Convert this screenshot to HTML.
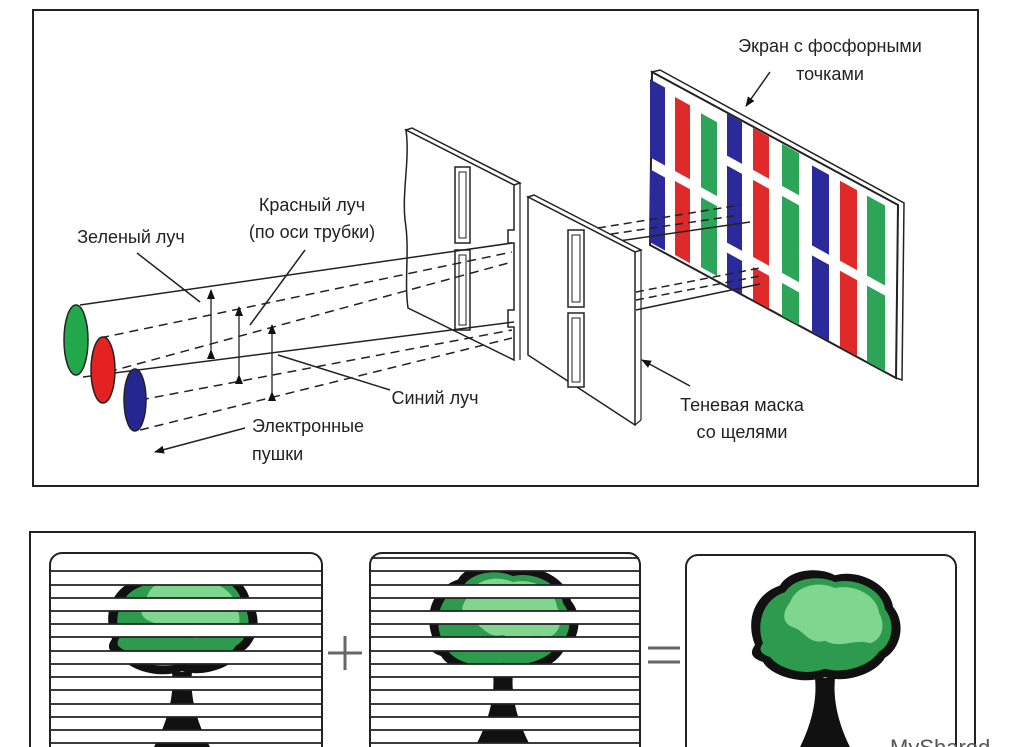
<!DOCTYPE html>
<html><head><meta charset="utf-8"><style>
html,body{margin:0;padding:0;background:#fff;}
svg{display:block;}
text{font-family:"Liberation Sans",sans-serif;font-size:18px;fill:#222;}
</style></head><body>
<svg width="1027" height="747" viewBox="0 0 1027 747" xmlns="http://www.w3.org/2000/svg">
<defs>
<marker id="ah" markerWidth="10" markerHeight="8" refX="9" refY="4" orient="auto" markerUnits="userSpaceOnUse"><path d="M0,0 L10,4 L0,8 z" fill="#111"/></marker>
</defs>

<!-- top frame -->
<rect x="33" y="10" width="945" height="476" fill="none" stroke="#222" stroke-width="2"/>

<!-- screen -->
<polygon points="652,72 660,70 904,203 902,380 896,378 898,205" fill="#fff" stroke="#222" stroke-width="1.5"/>
<polygon points="652,72 898,205 896,378 650,245" fill="#fff" stroke="#222" stroke-width="2"/>
<g transform="matrix(1,0.55,0,1,0,-360.25)">
 <rect x="650" y="82" width="15" height="78" fill="#2a2a9a"/><rect x="650" y="172" width="15" height="73" fill="#2a2a9a"/>
 <rect x="675" y="86" width="15" height="74" fill="#e02a2a"/><rect x="675" y="170" width="15" height="74" fill="#e02a2a"/>
 <rect x="701" y="88" width="16" height="74" fill="#2ca558"/><rect x="701" y="172" width="16" height="70" fill="#2ca558"/>
 <rect x="727" y="74" width="15" height="42" fill="#2a2a9a"/><rect x="727" y="126" width="15" height="77" fill="#2a2a9a"/><rect x="727" y="213" width="15" height="33" fill="#2a2a9a"/>
 <rect x="753" y="74" width="16" height="42" fill="#e02a2a"/><rect x="753" y="126" width="16" height="77" fill="#e02a2a"/><rect x="753" y="213" width="16" height="33" fill="#e02a2a"/>
 <rect x="782" y="74" width="17" height="42" fill="#2ca558"/><rect x="782" y="126" width="17" height="77" fill="#2ca558"/><rect x="782" y="213" width="17" height="33" fill="#2ca558"/>
 <rect x="812" y="79" width="17" height="80" fill="#2a2a9a"/><rect x="812" y="169" width="17" height="76" fill="#2a2a9a"/>
 <rect x="840" y="79" width="17" height="80" fill="#e02a2a"/><rect x="840" y="169" width="17" height="76" fill="#e02a2a"/>
 <rect x="867" y="79" width="18" height="80" fill="#2ca558"/><rect x="867" y="169" width="18" height="76" fill="#2ca558"/>
</g>

<!-- beams to screen -->
<g stroke="#222" stroke-width="1.5" fill="none">
 <line x1="598" y1="228" x2="740" y2="205" stroke-dasharray="8,5"/>
 <line x1="598" y1="236" x2="740" y2="215" stroke-dasharray="8,5"/>
 <line x1="598" y1="244" x2="750" y2="222"/>
 <line x1="636" y1="292" x2="760" y2="268" stroke-dasharray="8,5"/>
 <line x1="636" y1="300" x2="760" y2="276" stroke-dasharray="8,5"/>
 <line x1="636" y1="310" x2="760" y2="284"/>
</g>

<!-- shadow mask plate 1 -->
<polygon points="406,130 412,128 520,183 514,185" fill="#fff" stroke="#222" stroke-width="1.5"/>
<path d="M406,130 L514,185 L514,230 L508,230 L508,243 L514,243 L514,310 L508,310 L508,327 L514,327 L514,360 L408,308 C404,280 410,250 405,220 C402,190 410,160 406,130 z" fill="#fff" stroke="#222" stroke-width="1.5"/>
<line x1="520" y1="183" x2="520" y2="360" stroke="#222" stroke-width="1.2"/>
<rect x="455" y="167" width="15" height="76" fill="#fff" stroke="#222" stroke-width="1.5"/>
<rect x="459" y="172" width="7" height="66" fill="none" stroke="#222" stroke-width="1"/>
<rect x="455" y="250" width="15" height="80" fill="#fff" stroke="#222" stroke-width="1.5"/>
<rect x="459" y="255" width="7" height="70" fill="none" stroke="#222" stroke-width="1"/>

<!-- guns and beams -->
<g stroke="#222" stroke-width="1.5" fill="none">
 <line x1="80" y1="305" x2="512" y2="243"/>
 <line x1="83" y1="377" x2="514" y2="322"/>
 <line x1="100" y1="338" x2="512" y2="252" stroke-dasharray="9,6"/>
 <line x1="108" y1="372" x2="512" y2="262" stroke-dasharray="9,6"/>
 <line x1="140" y1="400" x2="512" y2="330" stroke-dasharray="9,6"/>
 <line x1="140" y1="430" x2="512" y2="338" stroke-dasharray="9,6"/>
</g>
<ellipse cx="76" cy="340" rx="12" ry="35" fill="#22a84a" stroke="#222" stroke-width="1.5"/>
<ellipse cx="103" cy="370" rx="12" ry="33" fill="#e52222" stroke="#222" stroke-width="1.5"/>
<ellipse cx="135" cy="400" rx="11" ry="31" fill="#262690" stroke="#222" stroke-width="1.5"/>

<!-- plate 2 -->
<polygon points="528,197 534,195 641,250 635,252" fill="#fff" stroke="#222" stroke-width="1.5"/>
<polygon points="528,197 635,252 635,425 528,355" fill="#fff" stroke="#222" stroke-width="1.5"/>
<line x1="641" y1="250" x2="641" y2="420" stroke="#222" stroke-width="1.2"/>
<line x1="635" y1="425" x2="641" y2="420" stroke="#222" stroke-width="1.2"/>
<rect x="568" y="230" width="16" height="77" fill="#fff" stroke="#222" stroke-width="1.5"/>
<rect x="572" y="235" width="8" height="67" fill="none" stroke="#222" stroke-width="1"/>
<rect x="568" y="313" width="16" height="74" fill="#fff" stroke="#222" stroke-width="1.5"/>
<rect x="572" y="318" width="8" height="64" fill="none" stroke="#222" stroke-width="1"/>

<!-- dimension arrows -->
<g stroke="#222" stroke-width="1.3" marker-start="url(#ah)" marker-end="url(#ah)">
 <line x1="211" y1="350" x2="211" y2="290"/>
 <line x1="239" y1="375" x2="239" y2="307"/>
 <line x1="272" y1="392" x2="272" y2="325"/>
</g>

<!-- leader lines -->
<g stroke="#222" stroke-width="1.5">
 <line x1="137" y1="253" x2="200" y2="302"/>
 <line x1="305" y1="250" x2="250" y2="325"/>
 <line x1="390" y1="390" x2="278" y2="355"/>
 <line x1="770" y1="72" x2="746" y2="106" marker-end="url(#ah)"/>
 <line x1="245" y1="428" x2="155" y2="452" marker-end="url(#ah)"/>
 <line x1="690" y1="386" x2="642" y2="360" marker-end="url(#ah)"/>
</g>

<!-- labels -->
<text x="830" y="52" text-anchor="middle">Экран с фосфорными</text>
<text x="830" y="80" text-anchor="middle">точками</text>
<text x="312" y="211" text-anchor="middle">Красный луч</text>
<text x="312" y="238" text-anchor="middle">(по оси трубки)</text>
<text x="131" y="243" text-anchor="middle">Зеленый луч</text>
<text x="435" y="404" text-anchor="middle">Синий луч</text>
<text x="252" y="432">Электронные</text>
<text x="252" y="460">пушки</text>
<text x="742" y="411" text-anchor="middle">Теневая маска</text>
<text x="742" y="438" text-anchor="middle">со щелями</text>

<!-- bottom frame -->
<path d="M30,760 L30,532 L975,532 L975,760" fill="none" stroke="#222" stroke-width="2"/>

<!-- box 1 -->
<rect x="50" y="553" width="272" height="220" rx="12" fill="#ffffff"/>
<g transform="translate(182,622)">
 <path d="M-10,50 C-8,70 -12,95 -28,125 L28,125 C12,95 8,70 10,50 z" fill="#111"/>
 <g transform="scale(1,0.85)">
 <path d="M-70,20 C-80,-10 -70,-40 -45,-50 C-35,-70 -5,-72 10,-62 C35,-70 65,-50 68,-25 C82,-5 75,25 60,35 C50,55 20,65 0,58 C-25,68 -55,55 -62,40 C-75,35 -75,28 -70,20 z" fill="#111"/>
 <path d="M-62,18 C-70,-8 -60,-35 -40,-42 C-30,-60 -5,-62 10,-54 C32,-60 58,-44 60,-22 C72,-4 66,20 54,28 C44,46 18,54 0,48 C-22,58 -48,46 -55,34 C-66,30 -66,24 -62,18 z" fill="#2e9a4e"/>
 <path d="M-35,-30 C-28,-52 -5,-55 10,-47 C30,-52 52,-38 54,-18 C62,0 55,15 45,18 C30,12 15,25 0,15 C-15,20 -20,5 -30,0 C-45,-5 -42,-20 -35,-30 z" fill="#7fd68f"/>
 </g>
</g>
<path fill="#ffffff" d="M51,555H321V585H51Z M51,598H321V611H51Z M51,624H321V637H51Z M51,651H321V664H51Z M51,677H321V690H51Z M51,704H321V717H51Z M51,730H321V743H51Z"/>
<path d="M51,571H321M51,585H321M51,598H321M51,611H321M51,624H321M51,637H321M51,651H321M51,664H321M51,677H321M51,690H321M51,704H321M51,717H321M51,730H321M51,743H321" stroke="#222" stroke-width="1.8" fill="none"/>
<rect x="50" y="553" width="272" height="220" rx="12" fill="none" stroke="#222" stroke-width="2"/>

<!-- box 2 -->
<rect x="370" y="553" width="270" height="220" rx="12" fill="#ffffff"/>
<g transform="translate(503,622)">
 <path d="M-10,50 C-8,70 -12,95 -28,125 L28,125 C12,95 8,70 10,50 z" fill="#111"/>
 <g transform="scale(1,0.85)">
 <path d="M-70,20 C-80,-10 -70,-40 -45,-50 C-35,-70 -5,-72 10,-62 C35,-70 65,-50 68,-25 C82,-5 75,25 60,35 C50,55 20,65 0,58 C-25,68 -55,55 -62,40 C-75,35 -75,28 -70,20 z" fill="#111"/>
 <path d="M-62,18 C-70,-8 -60,-35 -40,-42 C-30,-60 -5,-62 10,-54 C32,-60 58,-44 60,-22 C72,-4 66,20 54,28 C44,46 18,54 0,48 C-22,58 -48,46 -55,34 C-66,30 -66,24 -62,18 z" fill="#2e9a4e"/>
 <path d="M-35,-30 C-28,-52 -5,-55 10,-47 C30,-52 52,-38 54,-18 C62,0 55,15 45,18 C30,12 15,25 0,15 C-15,20 -20,5 -30,0 C-45,-5 -42,-20 -35,-30 z" fill="#7fd68f"/>
 </g>
</g>
<path fill="#ffffff" d="M371,555H639V571H371Z M371,585H639V598H371Z M371,611H639V624H371Z M371,637H639V651H371Z M371,664H639V677H371Z M371,690H639V704H371Z M371,717H639V730H371Z M371,743H639V747H371Z"/>
<path d="M371,558H639M371,571H639M371,585H639M371,598H639M371,611H639M371,624H639M371,637H639M371,651H639M371,664H639M371,677H639M371,690H639M371,704H639M371,717H639M371,730H639M371,743H639" stroke="#222" stroke-width="1.8" fill="none"/>
<rect x="370" y="553" width="270" height="220" rx="12" fill="none" stroke="#222" stroke-width="2"/>

<!-- plus and equals -->
<g stroke="#666" stroke-width="3">
 <line x1="328" y1="653" x2="362" y2="653"/><line x1="345" y1="636" x2="345" y2="670"/>
 <line x1="648" y1="648" x2="680" y2="648"/><line x1="648" y1="662" x2="680" y2="662"/>
</g>

<!-- box 3 -->
<rect x="686" y="555" width="270" height="220" rx="12" fill="#fff" stroke="#222" stroke-width="2"/>
<g transform="translate(825,628)">
 <path d="M-10,50 C-8,70 -12,95 -28,125 L28,125 C12,95 8,70 10,50 z" fill="#111"/>
 <g transform="scale(1,0.85)">
 <path d="M-70,20 C-80,-10 -70,-40 -45,-50 C-35,-70 -5,-72 10,-62 C35,-70 65,-50 68,-25 C82,-5 75,25 60,35 C50,55 20,65 0,58 C-25,68 -55,55 -62,40 C-75,35 -75,28 -70,20 z" fill="#111"/>
 <path d="M-62,18 C-70,-8 -60,-35 -40,-42 C-30,-60 -5,-62 10,-54 C32,-60 58,-44 60,-22 C72,-4 66,20 54,28 C44,46 18,54 0,48 C-22,58 -48,46 -55,34 C-66,30 -66,24 -62,18 z" fill="#2e9a4e"/>
 <path d="M-35,-30 C-28,-52 -5,-55 10,-47 C30,-52 52,-38 54,-18 C62,0 55,15 45,18 C30,12 15,25 0,15 C-15,20 -20,5 -30,0 C-45,-5 -42,-20 -35,-30 z" fill="#7fd68f"/>
 </g>
</g>
<text x="890" y="755" style="font-size:22px;fill:#555">MyShared</text>
</svg>
</body></html>
